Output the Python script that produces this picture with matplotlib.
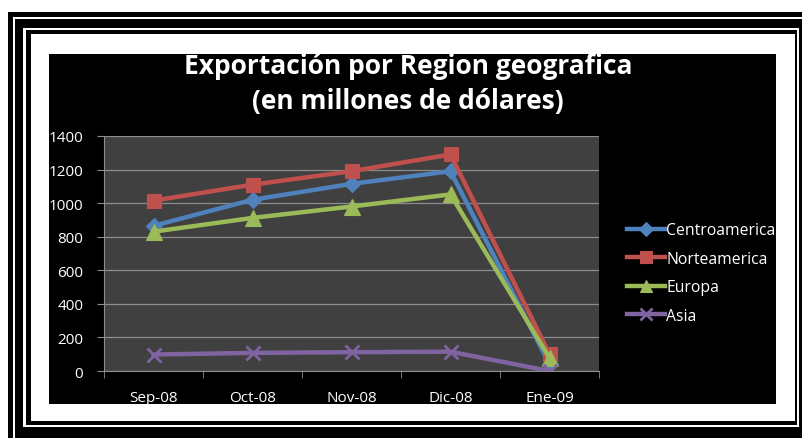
import matplotlib
matplotlib.use("Agg")
import matplotlib.pyplot as plt
from matplotlib.patches import Rectangle
import numpy as np

# data
meses = ["Sep-08", "Oct-08", "Nov-08", "Dic-08", "Ene-09"]
centroamerica = [865, 1020, 1115, 1190, 40]
norteamerica = [1015, 1110, 1190, 1290, 100]
europa = [830, 912, 980, 1052, 78]
asia = [98, 108, 112, 115, 0]
y_ticks = [0, 200, 400, 600, 800, 1000, 1200, 1400]

titulo_1 = "Exportación por Region geografica"
titulo_2 = "(en millones de dólares)"

W, H = 802, 439
plt.rcParams['font.family'] = ['Open Sans', 'DejaVu Sans']

fig = plt.figure(figsize=(W / 100, H / 100), dpi=100)
fig.patch.set_facecolor("white")


def px_rect(x0, y0, x1, y1, color, z):
    # pixel box (y from top) -> figure fraction rectangle
    fig.add_artist(Rectangle((x0 / W, 1 - y1 / H), (x1 - x0) / W, (y1 - y0) / H,
                             transform=fig.transFigure, facecolor=color,
                             edgecolor="none", zorder=z))


# nested frame lines round the chart
px_rect(8, 13, 820, 460, "black", -10)
px_rect(13, 18, 820, 460, "white", -9)
px_rect(15, 20, 820, 460, "black", -8)
px_rect(23, 29, 799, 428, "white", -7)
px_rect(26, 31, 797, 426, "black", -6)
px_rect(31, 35, 795, 422, "white", -5)
# black chart area
px_rect(49, 55, 776, 405, "black", -4)

ax = fig.add_axes([104 / W, 1 - 372 / H, (599 - 104) / W, (372 - 137) / H])
ax.set_facecolor("#404040")

x = np.arange(len(meses))
series = [
    ("Centroamerica", centroamerica, "#4F81BD", "D", 8),
    ("Norteamerica", norteamerica, "#C0504D", "s", 10),
    ("Europa", europa, "#9BBB59", "^", 11),
    ("Asia", asia, "#8064A2", "x", 10),
]
for name, vals, col, mk, ms in series:
    ax.plot(x, vals, color=col, lw=3.2, marker=mk, markersize=ms,
            markerfacecolor=col, markeredgecolor=col, markeredgewidth=2 if mk == "x" else 0.8,
            label=name, solid_joinstyle="round")

ax.set_xlim(-0.5, len(meses) - 0.5)
ax.set_ylim(0, 1400)
ax.set_yticks(y_ticks)
ax.set_yticklabels([str(v) for v in y_ticks])
ax.yaxis.grid(True, color="#8c8c8c", lw=0.9)
ax.set_axisbelow(True)

ax.set_xticks(x)
ax.set_xticklabels(meses)
ax.set_xticks(np.arange(-0.5, len(meses)), minor=True)
ax.tick_params(axis="x", which="major", length=0, pad=14, labelsize=11, labelcolor="white")
ax.tick_params(axis="x", which="minor", length=5, color="#8c8c8c", direction="out")
ax.tick_params(axis="y", length=5, color="#8c8c8c", pad=10, labelsize=11, labelcolor="white")

for side in ["top", "right"]:
    ax.spines[side].set_visible(False)
for side in ["left", "bottom"]:
    ax.spines[side].set_color("#8c8c8c")

fig.text(408 / W, 1 - 67 / H, titulo_1, ha="center", va="center",
         fontsize=19, fontweight="bold", color="white")
fig.text(408 / W, 1 - 102 / H, titulo_2, ha="center", va="center",
         fontsize=19, fontweight="bold", color="white")

leg = ax.legend(loc="center left", bbox_to_anchor=(613 / W, 1 - 274 / H),
                bbox_transform=fig.transFigure, frameon=False, fontsize=11.3,
                labelcolor="white", handlelength=2.4, handletextpad=0.1,
                labelspacing=0.8, markerscale=0.85)

fig.savefig("out.png", dpi=100, facecolor=fig.get_facecolor())
